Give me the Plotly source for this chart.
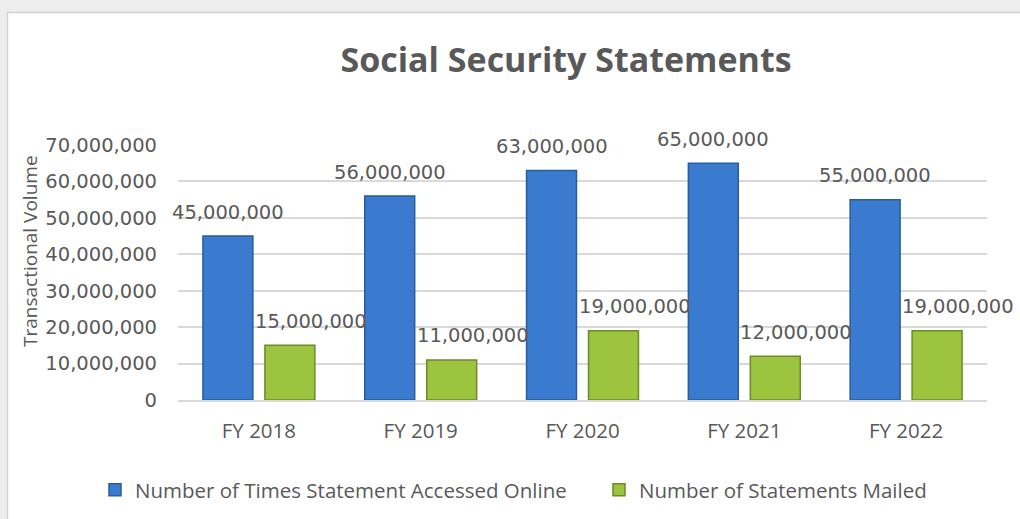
import plotly.graph_objects as go

categories = ["FY 2018", "FY 2019", "FY 2020", "FY 2021", "FY 2022"]
online_values = [45000000, 56000000, 63000000, 65000000, 55000000]
mailed_values = [15000000, 11000000, 19000000, 12000000, 19000000]
series_names = ["Number of Times Statement Accessed Online", "Number of Statements Mailed"]
y_tick_values = [0, 10000000, 20000000, 30000000, 40000000, 50000000, 60000000, 70000000]
y_tick_labels = ["0", "10,000,000", "20,000,000", "30,000,000", "40,000,000",
                 "50,000,000", "60,000,000", "70,000,000"]

W, H = 1020, 519
ML, MR, MT, MB = 178, 33, 145, 119
PW = W - ML - MR
PH = H - MT - MB

def px_x(p):
    return (p - ML) / PW

def px_y(p):
    return (H - MB - p) / PH

TEXT = "#595959"
BLUE = "#3a7bd0"
BLUE_EDGE = "#2a5c9c"
GREEN = "#9cc43f"
GREEN_EDGE = "#6c8a28"

fig = go.Figure()
fig.add_trace(go.Bar(
    x=categories, y=online_values, name=series_names[0], legend="legend",
    marker=dict(color=BLUE, line=dict(color=BLUE_EDGE, width=1.5)),
))
fig.add_trace(go.Bar(
    x=categories, y=mailed_values, name=series_names[1], legend="legend2",
    marker=dict(color=GREEN, line=dict(color=GREEN_EDGE, width=1.5)),
))

label_font = dict(family="DejaVu Sans", size=19.5, color=TEXT)
annotations = []
for c, v in zip(categories, online_values):
    annotations.append(dict(x=c, y=v, xref="x", yref="y", text=f"{v:,}", showarrow=False,
                            xanchor="center", yanchor="middle", xshift=-31, yshift=24,
                            font=label_font))
for c, v in zip(categories, mailed_values):
    annotations.append(dict(x=c, y=v, xref="x", yref="y", text=f"{v:,}", showarrow=False,
                            xanchor="center", yanchor="middle", xshift=52, yshift=24,
                            font=label_font))
annotations.append(dict(x=px_x(30), y=px_y(251), xref="paper", yref="paper",
                        text="Transactional Volume", textangle=-90, showarrow=False,
                        xanchor="center", yanchor="middle",
                        font=dict(family="Open Sans", size=19, color=TEXT)))

shapes = [dict(type="rect", xref="paper", yref="paper", layer="below",
               x0=px_x(7.5), x1=px_x(1030), y0=px_y(530), y1=px_y(12.5),
               fillcolor="white", line=dict(color="#d2d2d2", width=1.5))]

legend_common = dict(orientation="h", xanchor="left", yanchor="middle",
                     font=dict(family="Open Sans", size=20.5, color=TEXT),
                     bgcolor="rgba(0,0,0,0)", itemwidth=30)

fig.update_layout(
    width=W, height=H,
    margin=dict(l=ML, r=MR, t=MT, b=MB, pad=0, autoexpand=False),
    paper_bgcolor="#ededed",
    plot_bgcolor="rgba(0,0,0,0)",
    barmode="group",
    bargap=0.234,
    bargroupgap=0.194,
    title=dict(text="<b>Social Security Statements</b>", x=px_x(566), xref="paper",
               xanchor="center", y=1 - 60 / H, yref="container", yanchor="middle",
               font=dict(family="Open Sans", size=34, color=TEXT)),
    xaxis=dict(range=[-0.5, len(categories) - 0.5], autorange=False,
               showgrid=False, showline=True, linecolor="#d9d9d9", linewidth=1.5,
               ticks="", ticklabelstandoff=12,
               tickfont=dict(family="Open Sans", size=20.5, color=TEXT)),
    yaxis=dict(range=[0, 70000000], tickvals=y_tick_values, ticktext=y_tick_labels,
               showgrid=True, gridcolor="#d9d9d9", gridwidth=1.5, zeroline=False,
               showline=False, ticks="", ticklabelstandoff=20,
               tickfont=dict(family="DejaVu Sans", size=19.5, color=TEXT)),
    legend=dict(x=px_x(95), y=px_y(490), **legend_common),
    legend2=dict(x=px_x(599), y=px_y(490), **legend_common),
    annotations=annotations,
    shapes=shapes,
    showlegend=True,
)

fig.write_html("out.html")
